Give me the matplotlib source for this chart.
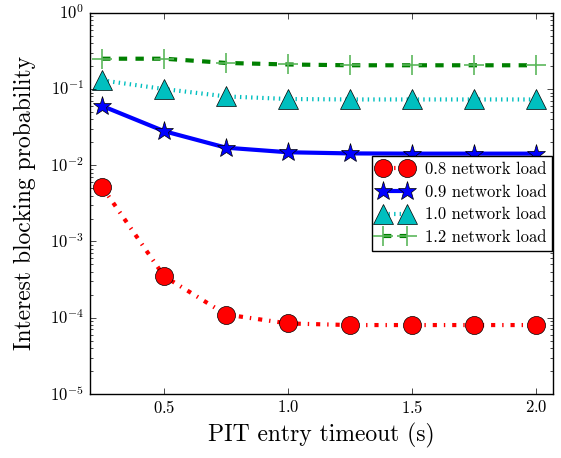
import matplotlib
matplotlib.use("Agg")
import matplotlib.pyplot as plt
import numpy as np

plt.style.use('classic')
plt.rcParams['font.family'] = 'cmr10'
plt.rcParams['mathtext.fontset'] = 'cm'
plt.rcParams['axes.formatter.use_mathtext'] = True

timeout = [0.25, 0.5, 0.75, 1.0, 1.25, 1.5, 1.75, 2.0]
load_08 = [5.2e-3, 3.5e-4, 1.1e-4, 8.4e-5, 8.0e-5, 8.0e-5, 8.0e-5, 8.0e-5]
load_09 = [0.060, 0.028, 0.017, 0.0148, 0.0143, 0.0142, 0.0142, 0.0142]
load_10 = [0.13, 0.10, 0.080, 0.074, 0.073, 0.073, 0.073, 0.073]
load_12 = [0.25, 0.25, 0.22, 0.21, 0.205, 0.205, 0.205, 0.205]
labels = ['0.8 network load', '0.9 network load', '1.0 network load', '1.2 network load']

fig = plt.figure(figsize=(5.61, 4.58), dpi=100)
ax = fig.add_axes([0.160, 0.140, 0.826, 0.832])

ax.plot(timeout, load_08, 'r-.', marker='o', ms=13, lw=3, label=labels[0])
ax.plot(timeout, load_09, 'b-', marker='*', ms=14, lw=3, label=labels[1])
ax.plot(timeout, load_10, 'c:', marker='^', ms=14, lw=3, label=labels[2])
ax.plot(timeout, load_12, 'g--', marker='+', ms=15, lw=3, mew=1.2,
        mec='#5cb85c', label=labels[3])

ax.set_yscale('log')
ax.set_ylim(1e-5, 1)
ax.set_xlim(0.2, 2.07)
ax.set_xticks([0.5, 1.0, 1.5, 2.0])
ax.set_xlabel('PIT entry timeout (s)', fontsize=17)
ax.set_ylabel('Interest blocking probability', fontsize=17, labelpad=10)
ax.tick_params(labelsize=12)

ax.legend(loc='center right', numpoints=2, fontsize=12, borderpad=0.35,
          labelspacing=0.45, handlelength=2.0, handletextpad=0.8,
          borderaxespad=0.05)

fig.savefig('out.png', dpi=100)
